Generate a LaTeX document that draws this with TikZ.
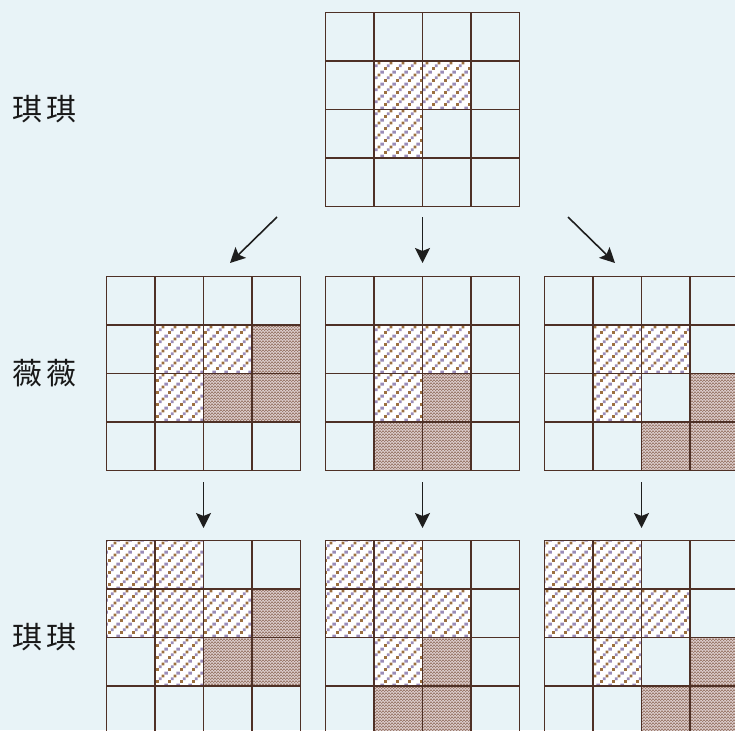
\documentclass[tikz,border=0pt]{standalone}
\usepackage{fontspec}
\newfontfamily\cjkfont{Noto Sans CJK SC}
\usepackage{xcolor}
\definecolor{bgblue}{HTML}{E8F3F7}
\definecolor{gridbrown}{HTML}{4E3026}
\definecolor{stripebrown}{HTML}{9C7040}
\definecolor{stripelilac}{HTML}{9A8CB8}
\definecolor{densedark}{HTML}{9C7C6E}
\definecolor{denselight}{HTML}{D9C9C8}
\definecolor{arrowgray}{HTML}{1E1E1E}
\usepackage{tikz}
\usetikzlibrary{arrows.meta,patterns.meta}

\tikzdeclarepattern{
  name=dotstripe, type=colored,
  bounding box={(0pt,0pt) and (12pt,12pt)},
  tile size={(12pt,12pt)},
  code={
    \fill[stripebrown] (0pt,0pt) rectangle (3pt,3pt);
    \fill[stripelilac] (3pt,3pt) rectangle (6pt,6pt);
    \fill[stripebrown] (6pt,6pt) rectangle (9pt,9pt);
    \fill[stripelilac] (9pt,9pt) rectangle (12pt,12pt);
  }
}
\tikzdeclarepattern{
  name=finecheck, type=colored,
  bounding box={(0pt,0pt) and (3pt,3pt)},
  tile size={(3pt,3pt)},
  code={
    \fill[densedark] (0pt,0pt) rectangle (1.5pt,1.5pt);
    \fill[densedark] (1.5pt,1.5pt) rectangle (3pt,3pt);
  }
}

% one 4x4 board: name, left, top, list of row/col/style
\newcommand{\board}[4]{%
  \begin{scope}[shift={(#2,#3)}]
    \foreach \r/\c/\s in {#4}
      \fill[\s] (\c*48.5,\r*48.5) rectangle ++(48.5,48.5);
    \foreach \i in {1,2,3} {
      \draw[gridline] (\i*48.5,0) -- ++(0,194);
      \draw[gridline] (0,\i*48.5) -- ++(194,0);
    }
    \node[boardbox, anchor=north west] (#1) at (0,0) {};
  \end{scope}}

\begin{document}
\begin{tikzpicture}[
  x=1pt, y=-1pt,
  boardbox/.style={draw=gridbrown, line width=1.4pt, minimum size=194pt,
                   inner sep=0pt, outer sep=0pt},
  gridline/.style={draw=gridbrown, line width=1.4pt},
  stripecell/.style={fill=white, postaction={pattern=dotstripe}},
  densecell/.style={fill=denselight, postaction={pattern=finecheck}},
  arr/.style={-{Stealth[length=15pt, width=15pt, inset=3pt]},
              line width=1.6pt, draw=arrowgray},
  lbl/.style={font=\cjkfont\fontsize{30pt}{30pt}\selectfont, text=black!90}
]
  \clip (0,0) rectangle (735,730);
  \fill[bgblue] (0,0) rectangle (735,730);

  % first generation
  \board{top}{325.5}{12.5}{1/1/stripecell,1/2/stripecell,2/1/stripecell}

  % second generation
  \board{midL}{106.5}{276.5}{1/1/stripecell,1/2/stripecell,2/1/stripecell,
    1/3/densecell,2/2/densecell,2/3/densecell}
  \board{midM}{325.5}{276.5}{1/1/stripecell,1/2/stripecell,2/1/stripecell,
    2/2/densecell,3/1/densecell,3/2/densecell}
  \board{midR}{544.5}{276.5}{1/1/stripecell,1/2/stripecell,2/1/stripecell,
    2/3/densecell,3/2/densecell,3/3/densecell}

  % third generation
  \board{botL}{106.5}{540.5}{0/0/stripecell,0/1/stripecell,1/0/stripecell,
    1/1/stripecell,1/2/stripecell,2/1/stripecell,
    1/3/densecell,2/2/densecell,2/3/densecell}
  \board{botM}{325.5}{540.5}{0/0/stripecell,0/1/stripecell,1/0/stripecell,
    1/1/stripecell,1/2/stripecell,2/1/stripecell,
    2/2/densecell,3/1/densecell,3/2/densecell}
  \board{botR}{544.5}{540.5}{0/0/stripecell,0/1/stripecell,1/0/stripecell,
    1/1/stripecell,1/2/stripecell,2/1/stripecell,
    2/3/densecell,3/2/densecell,3/3/densecell}

  \node[lbl] (qiTop) at (44.5,109) {琪\hspace{4pt}琪};
  \node[lbl] (wei) at (44.5,373) {薇\hspace{4pt}薇};
  \node[lbl] (qiBot) at (44.5,637) {琪\hspace{4pt}琪};

  \draw[arr] ([xshift=-48.5pt, yshift=-10.5pt]top.south west)
    -- ([xshift=26.5pt, yshift=13.5pt]midL.north);
  \draw[arr] ([yshift=-10.5pt]top.south) -- ([yshift=13.5pt]midM.north);
  \draw[arr] ([xshift=48.5pt, yshift=-10.5pt]top.south east)
    -- ([xshift=-26.5pt, yshift=13.5pt]midR.north);

  \draw[arr] ([yshift=-11.5pt]midL.south) -- ([yshift=12.5pt]botL.north);
  \draw[arr] ([yshift=-11.5pt]midM.south) -- ([yshift=12.5pt]botM.north);
  \draw[arr] ([yshift=-11.5pt]midR.south) -- ([yshift=12.5pt]botR.north);
\end{tikzpicture}
\end{document}
